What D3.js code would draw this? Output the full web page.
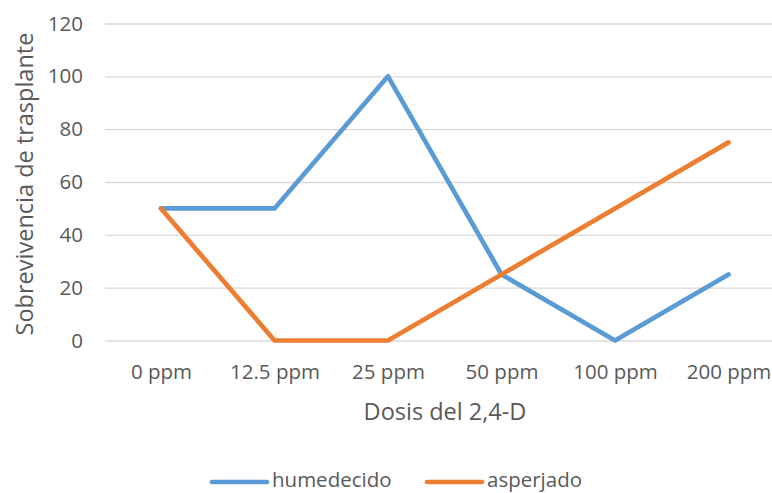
<!DOCTYPE html>
<html><head><meta charset="utf-8">
<script src="https://cdn.jsdelivr.net/npm/d3@7"></script>
<style>html,body{margin:0;padding:0;background:#fff;overflow:hidden}</style>
</head><body>
<svg id="c" width="772" height="493"></svg>
<script>
const categories = ["0 ppm","12.5 ppm","25 ppm","50 ppm","100 ppm","200 ppm"];
const humedecido = [50, 50, 100, 25, 0, 25];
const asperjado = [50, 0, 0, 25, 50, 75];
const yTicks = [0, 20, 40, 60, 80, 100, 120];
const seriesNames = ["humedecido", "asperjado"];
const colors = ["#5B9BD5", "#ED7D31"];

const svg = d3.select("#c");
const font = "'Open Sans', sans-serif";
const textColor = "#595959";

const x = d3.scalePoint().domain(categories).range([161, 728.5]);
const y = d3.scaleLinear().domain([0, 120]).range([340.5, 23.5]);

// gridlines
const gy = svg.append("g").attr("transform", "translate(105,0)")
  .call(d3.axisLeft(y).tickValues(yTicks).tickSize(-690).tickFormat(d3.format("d")).tickPadding(22));
gy.select(".domain").remove();
gy.selectAll(".tick line").attr("stroke", "#d9d9d9").attr("stroke-width", 1.3);
gy.selectAll(".tick text").attr("fill", textColor).attr("font-family", font).attr("font-size", 20.5);

// x axis labels
const gx = svg.append("g").attr("transform", "translate(0,340.5)")
  .call(d3.axisBottom(x).tickSize(0).tickPadding(24));
gx.select(".domain").remove();
gx.selectAll(".tick text").attr("fill", textColor).attr("font-family", font).attr("font-size", 20.5);

const line = d3.line().x((d, i) => x(categories[i])).y(d => y(d));
[humedecido, asperjado].forEach((s, k) => {
  svg.append("path").datum(s).attr("d", line)
    .attr("fill", "none").attr("stroke", colors[k]).attr("stroke-width", 4.7)
    .attr("stroke-linecap", "round").attr("stroke-linejoin", "round");
});

// axis titles
svg.append("text").attr("x", 445).attr("y", 420).attr("text-anchor", "middle")
  .attr("fill", textColor).attr("font-family", font).attr("font-size", 23.5)
  .text("Dosis del 2,4-D");
svg.append("text").attr("transform", "translate(33,184) rotate(-90)").attr("text-anchor", "middle")
  .attr("fill", textColor).attr("font-family", font).attr("font-size", 23.5)
  .text("Sobrevivencia de trasplante");

// legend
const lx = [212, 427];
seriesNames.forEach((n, k) => {
  svg.append("line").attr("x1", lx[k]).attr("x2", lx[k] + 55).attr("y1", 482).attr("y2", 482)
    .attr("stroke", colors[k]).attr("stroke-width", 4.7).attr("stroke-linecap", "round");
  svg.append("text").attr("x", lx[k] + 60).attr("y", 487)
    .attr("fill", textColor).attr("font-family", font).attr("font-size", 20.5).text(n);
});
</script>
</body></html>
